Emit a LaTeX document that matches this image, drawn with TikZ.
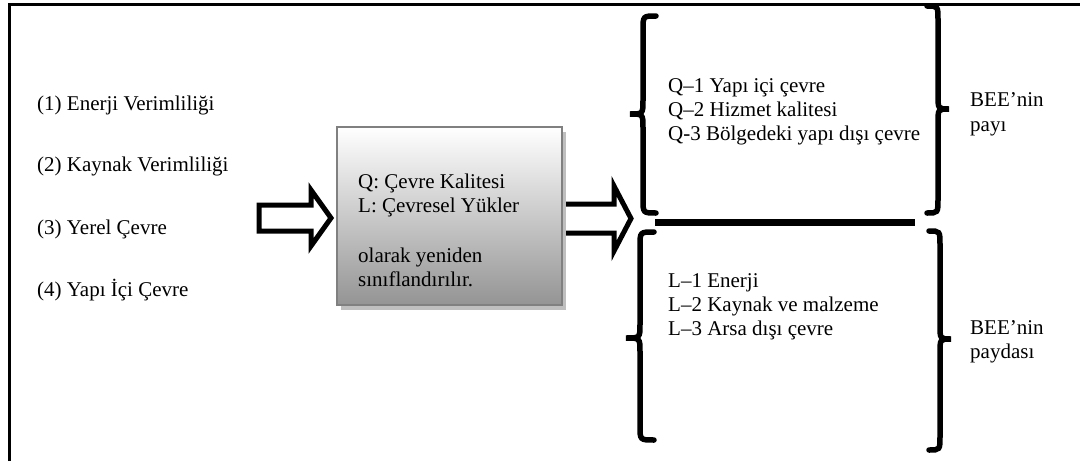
\documentclass[tikz,border=0pt]{standalone}
\usepackage{fontspec}
\setmainfont{Liberation Serif}
\usetikzlibrary{shadows}
\begin{document}
\begin{tikzpicture}[x=1pt,y=-1pt,
  txt/.style={anchor=base west, inner sep=0pt, font=\fontsize{21}{24}\selectfont},
  blockarrow/.style={draw=black, fill=white, line width=5pt, line join=miter},
  bracepath/.style={draw=black, line width=5.5pt, line cap=round},
  frameline/.style={draw=black, line width=3pt},
  classbox/.style={draw=black!50, line width=2.5pt, top color=white, bottom color=black!42,
    minimum width=225pt, minimum height=178pt, inner sep=0pt,
    general shadow={fill=black!25, shadow xshift=4pt, shadow yshift=-5pt}}]
\useasboundingbox (0,0) rectangle (1080,461);
% frame
\draw[frameline] (9,461) -- (9,4) -- (1080,4);
% left texts
\node[txt] (t1) at (37,110) {(1) Enerji Verimliliği};
\node[txt] (t2) at (37,171) {(2) Kaynak Verimliliği};
\node[txt] (t3) at (37,234) {(3) Yerel Çevre};
\node[txt] (t4) at (37,296) {(4) Yapı İçi Çevre};
% arrow 1
\draw[blockarrow] (259,205) -- (311,205) -- (311,190) -- (331,218) -- (311,246) -- (311,231) -- (259,231) -- cycle;
% arrow 2
\draw[blockarrow] (563,204) -- (614,204) -- (614,186) -- (631,218.5) -- (614,251) -- (614,233) -- (563,233) -- cycle;
% box
\node[classbox] (box) at (449.5,216) {};
\node[txt] (b1) at (358,188) {Q: Çevre Kalitesi};
\node[txt] (b2) at (358,212) {L: Çevresel Yükler};
\node[txt] (b3) at (358,262) {olarak yeniden};
\node[txt] (b4) at (358,286) {sınıflandırılır.};
% divider
\draw[line width=7pt] (655,222) -- (915,222);
% braces
\draw[bracepath] (656,16) .. controls (643,16) .. (643,30) -- (643,100) .. controls (643,114) .. (630,114) .. controls (643,114) .. (643,128) -- (643,199) .. controls (643,213) .. (656,213);
\draw[bracepath] (927,6) .. controls (938,6) .. (938,20) -- (938,95) .. controls (938,109) .. (949,109) .. controls (938,109) .. (938,123) -- (938,199) .. controls (938,213) .. (927,213);
\draw[bracepath] (654,232) .. controls (640,232) .. (640,246) -- (640,324) .. controls (640,338) .. (626,338) .. controls (640,338) .. (640,352) -- (640,426) .. controls (640,440) .. (654,440);
\draw[bracepath] (929,231) .. controls (940,231) .. (940,245) -- (940,325) .. controls (940,339) .. (951,339) .. controls (940,339) .. (940,353) -- (940,436) .. controls (940,450) .. (929,450);
% Q texts
\node[txt] (q1) at (668,92) {Q–1 Yapı içi çevre};
\node[txt] (q2) at (668,116) {Q–2 Hizmet kalitesi};
\node[txt] (q3) at (668,140) {Q-3 Bölgedeki yapı dışı çevre};
% L texts
\node[txt] (l1) at (668,287) {L–1 Enerji};
\node[txt] (l2) at (668,311) {L–2 Kaynak ve malzeme};
\node[txt] (l3) at (668,335) {L–3 Arsa dışı çevre};
% BEE labels
\node[txt] (p1) at (970,106) {BEE’nin};
\node[txt] (p2) at (970,131) {payı};
\node[txt] (d1) at (970,334) {BEE’nin};
\node[txt] (d2) at (970,358) {paydası};
\end{tikzpicture}
\end{document}
